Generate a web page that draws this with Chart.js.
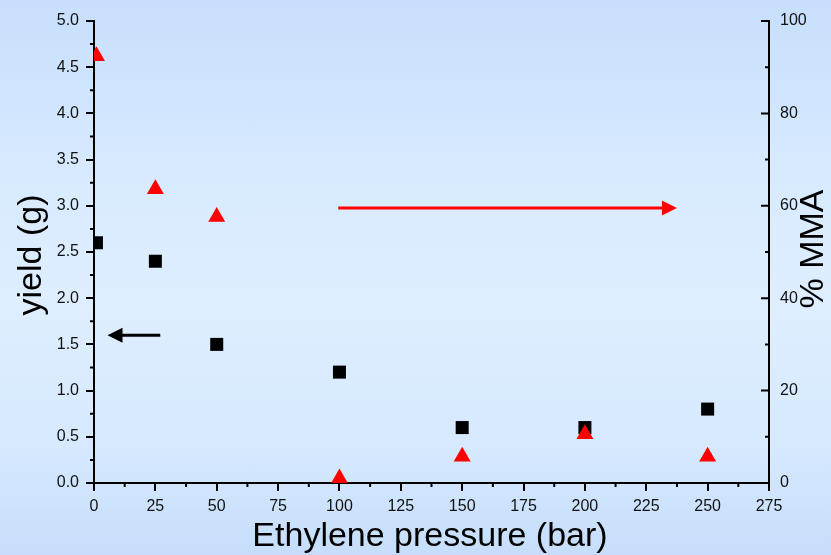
<!DOCTYPE html>
<html>
<head>
<meta charset="utf-8">
<script src="https://cdn.jsdelivr.net/npm/chart.js@4/dist/chart.umd.min.js"></script>
<style>
html, body { margin: 0; padding: 0; }
body {
  width: 831px; height: 555px; overflow: hidden;
  background: linear-gradient(180deg, #c7dffc 0%, #d9ebff 35%, #deeeff 55%, #d6e9fe 80%, #c6defb 100%);
}
canvas { display: block; }
</style>
</head>
<body>
<canvas id="chart" width="831" height="555"></canvas>
<script>
// Ethylene pressure (bar)
var pressure = [1, 25, 50, 100, 150, 200, 250];
// yield (g), black squares, left axis
var yieldG = [2.6, 2.4, 1.5, 1.2, 0.6, 0.6, 0.8];
// % MMA, red triangles, right axis
var mmaPct = [92.4, 63.6, 57.6, 1.0, 5.7, 10.6, 5.7];

// tick values
var xTicks = [0, 25, 50, 75, 100, 125, 150, 175, 200, 225, 250, 275];
var yieldTicks = [0, 0.5, 1.0, 1.5, 2.0, 2.5, 3.0, 3.5, 4.0, 4.5, 5.0];
var mmaTicks = [0, 20, 40, 60, 80, 100];

// arrows pointing at each axis (x from, x to, y value)
var blackArrowX = [27, 5.5];
var blackArrowYield = 1.6;
var redArrowX = [99.5, 237.5];
var redArrowMMA = 59.5;

var FONT = '"Liberation Sans", Arial, Helvetica, sans-serif';

function setTicks(values) {
  return function(scale) {
    scale.ticks = values.map(function(v) { return { value: v }; });
  };
}

function arrow(ctx, x0, x1, y, color) {
  var dir = x1 > x0 ? 1 : -1;
  var headLen = 15, headHalf = 7.5;
  ctx.strokeStyle = color;
  ctx.fillStyle = color;
  ctx.lineWidth = 3;
  ctx.beginPath();
  ctx.moveTo(x0, y);
  ctx.lineTo(x1 - dir * headLen + dir * 1, y);
  ctx.stroke();
  ctx.beginPath();
  ctx.moveTo(x1, y);
  ctx.lineTo(x1 - dir * headLen, y - headHalf);
  ctx.lineTo(x1 - dir * headLen, y + headHalf);
  ctx.closePath();
  ctx.fill();
}

var extras = {
  id: 'extras',
  afterDatasetsDraw: function(chart) {
    var ctx = chart.ctx;
    var xs = chart.scales.x, yl = chart.scales.yYield, yr = chart.scales.yMMA;
    var area = chart.chartArea;
    ctx.save();
    ctx.strokeStyle = '#000';
    ctx.lineWidth = 2;
    ctx.beginPath();
    // minor ticks on x axis
    for (var i = 0; i < xTicks.length - 1; i++) {
      var px = xs.getPixelForValue((xTicks[i] + xTicks[i + 1]) / 2);
      ctx.moveTo(px, area.bottom);
      ctx.lineTo(px, area.bottom + 4);
    }
    // minor ticks on left axis
    for (i = 0; i < yieldTicks.length - 1; i++) {
      var py = yl.getPixelForValue((yieldTicks[i] + yieldTicks[i + 1]) / 2);
      ctx.moveTo(area.left, py);
      ctx.lineTo(area.left - 4, py);
    }
    // right axis ticks point inwards
    for (i = 0; i < mmaTicks.length; i++) {
      py = yr.getPixelForValue(mmaTicks[i]);
      ctx.moveTo(area.right, py);
      ctx.lineTo(area.right - 8, py);
      if (i < mmaTicks.length - 1) {
        py = yr.getPixelForValue((mmaTicks[i] + mmaTicks[i + 1]) / 2);
        ctx.moveTo(area.right, py);
        ctx.lineTo(area.right - 4, py);
      }
    }
    ctx.stroke();

    arrow(ctx, xs.getPixelForValue(blackArrowX[0]), xs.getPixelForValue(blackArrowX[1]),
      yl.getPixelForValue(blackArrowYield), '#000');
    arrow(ctx, xs.getPixelForValue(redArrowX[0]), xs.getPixelForValue(redArrowX[1]),
      yr.getPixelForValue(redArrowMMA), '#ff0000');
    ctx.restore();
  },
  afterDraw: function(chart) {
    var ctx = chart.ctx;
    ctx.save();
    ctx.fillStyle = '#000';
    ctx.font = '34px ' + FONT;
    ctx.textAlign = 'center';
    ctx.textBaseline = 'alphabetic';
    ctx.fillText('Ethylene pressure (bar)', 430, 546);

    ctx.save();
    ctx.translate(41, 255);
    ctx.rotate(-Math.PI / 2);
    ctx.fillText('yield (g)', 0, 0);
    ctx.restore();

    ctx.save();
    ctx.translate(823, 249);
    ctx.rotate(-Math.PI / 2);
    ctx.fillText('% MMA', 0, 0);
    ctx.restore();
    ctx.restore();
  }
};

var chart = new Chart(document.getElementById('chart'), {
  type: 'scatter',
  data: {
    datasets: [
      {
        label: '% MMA',
        data: pressure.map(function(p, i) { return { x: p, y: mmaPct[i] }; }),
        yAxisID: 'yMMA',
        pointStyle: 'triangle',
        pointRadius: 9.8,
        pointHoverRadius: 9.8,
        backgroundColor: '#ff0000',
        borderWidth: 0,
        clip: 0
      },
      {
        label: 'yield (g)',
        data: pressure.map(function(p, i) { return { x: p, y: yieldG[i] }; }),
        yAxisID: 'yYield',
        pointStyle: 'rect',
        pointRadius: 9.2,
        pointHoverRadius: 9.2,
        backgroundColor: '#000000',
        borderWidth: 0,
        clip: 0
      }
    ]
  },
  options: {
    responsive: false,
    animation: false,
    events: [],
    layout: { padding: { top: 21, left: 0, right: 0, bottom: 0 } },
    plugins: {
      legend: { display: false },
      tooltip: { enabled: false }
    },
    scales: {
      x: {
        type: 'linear',
        min: 0, max: 275,
        afterBuildTicks: setTicks(xTicks),
        afterFit: function(s) { s.height = 72; },
        border: { display: true, color: '#000', width: 2 },
        grid: { drawOnChartArea: false, drawTicks: true, tickLength: 8, color: '#000', lineWidth: 2 },
        ticks: { color: '#111', padding: 6, font: { family: FONT, size: 16 }, maxRotation: 0 }
      },
      yYield: {
        type: 'linear',
        position: 'left',
        min: 0, max: 5,
        afterBuildTicks: setTicks(yieldTicks),
        afterFit: function(s) { s.width = 94; },
        border: { display: true, color: '#000', width: 2 },
        grid: { drawOnChartArea: false, drawTicks: true, tickLength: 8, color: '#000', lineWidth: 2 },
        ticks: {
          color: '#111', padding: 7, font: { family: FONT, size: 16 },
          callback: function(v) { return Number(v).toFixed(1); }
        }
      },
      yMMA: {
        type: 'linear',
        position: 'right',
        min: 0, max: 100,
        afterBuildTicks: setTicks(mmaTicks),
        afterFit: function(s) { s.width = 62; },
        border: { display: true, color: '#000', width: 2 },
        grid: { display: true, drawOnChartArea: false, drawTicks: false },
        ticks: { color: '#111', padding: 11, font: { family: FONT, size: 16 } }
      }
    }
  },
  plugins: [extras]
});
</script>
</body>
</html>
